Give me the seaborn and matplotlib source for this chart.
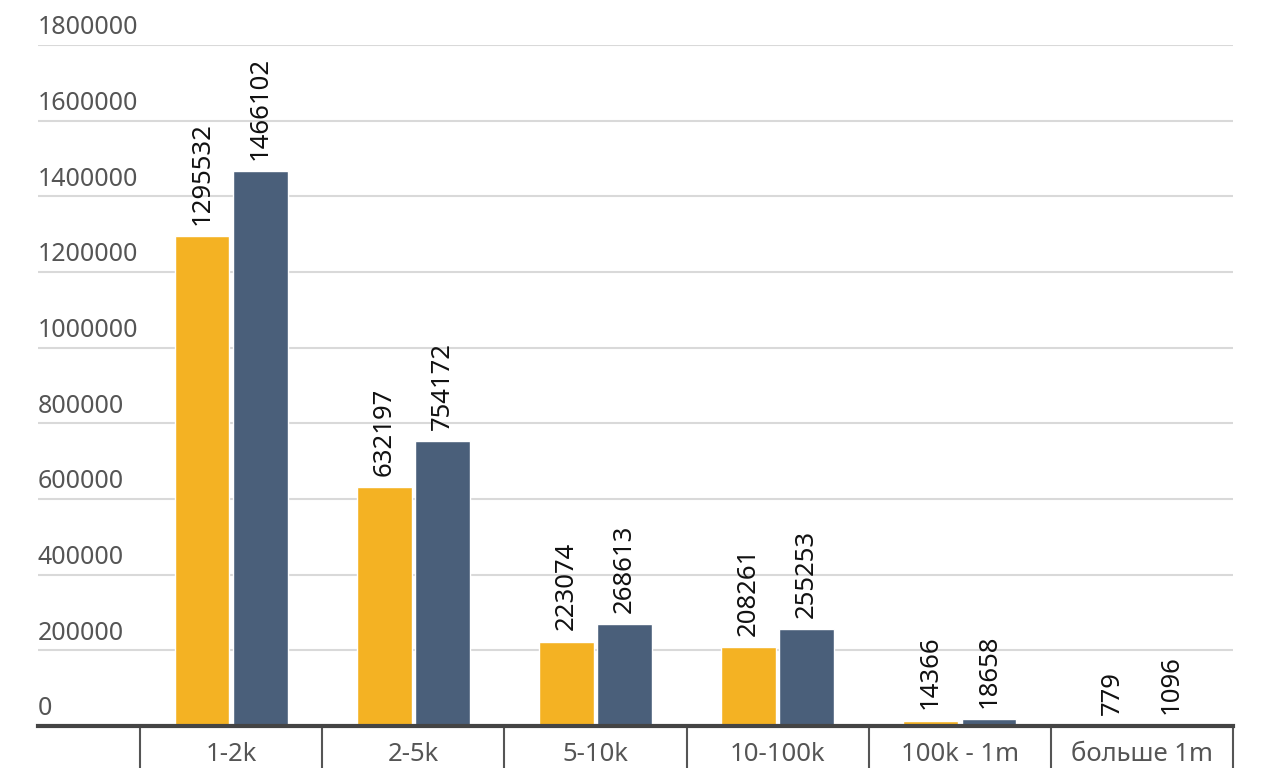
import numpy as np
import pandas as pd
import matplotlib.pyplot as plt
import matplotlib.transforms as mtransforms
import seaborn as sns

sns.set_theme(style="white")
plt.rcParams['font.family'] = ['Noto Sans', 'DejaVu Sans']

# Data
categories = ['1-2k', '2-5k', '5-10k', '10-100k', '100k - 1m', 'больше 1m']
series_a = [1295532, 632197, 223074, 208261, 14366, 779]
series_b = [1466102, 754172, 268613, 255253, 18658, 1096]
series_names = ['Ряд 1', 'Ряд 2']
y_ticks = [0, 200000, 400000, 600000, 800000, 1000000, 1200000, 1400000, 1600000, 1800000]

df = pd.DataFrame({
    'Категория': categories * 2,
    'Значение': series_a + series_b,
    'Ряд': [series_names[0]] * len(categories) + [series_names[1]] * len(categories),
})

fig = plt.figure(figsize=(12.8, 7.68), dpi=100)
ax = fig.add_axes([38 / 1280, 42 / 768, (1233 - 38) / 1280, (726 - 45) / 768])

sns.barplot(data=df, x='Категория', y='Значение', hue='Ряд',
            palette=['#F4B223', '#4A5F7A'], width=0.64, gap=0.06,
            saturation=1, legend=False, ax=ax)

ax.set_xlim(-1.06, 5.5)
ax.set_ylim(0, 1800000)

# gridlines
for t in y_ticks[1:]:
    ax.axhline(t, color='#d9d9d9', lw=1.5, zorder=0)
ax.set_axisbelow(True)

# value labels
for cont in ax.containers:
    ax.bar_label(cont, fmt='%d', rotation=90, padding=8, fontsize=18.5, color='#111111')

# y labels above gridlines
ax.set_yticks([])
trans = mtransforms.blended_transform_factory(ax.transAxes, ax.transData)
for t in y_ticks:
    ax.text(0, t + 12000, str(t), transform=trans, ha='left', va='bottom',
            fontsize=18, color='#555555')

# category labels and separators
ax.set_xticks([])
ax.set_xlabel('')
ax.set_ylabel('')
tx = mtransforms.blended_transform_factory(ax.transData, ax.transAxes)
for i, c in enumerate(categories):
    ax.text(i, -0.042, c, transform=tx, ha='center', va='center',
            fontsize=18.5, color='#555555', clip_on=False)
for b in np.arange(len(categories) + 1) - 0.5:
    ax.plot([b, b], [0, -0.07], transform=tx, color='#555555', lw=1.5, clip_on=False)

for s in ['top', 'right', 'left']:
    ax.spines[s].set_visible(False)
ax.spines['bottom'].set_color('#444444')
ax.spines['bottom'].set_linewidth(3)

fig.savefig('out.png', dpi=100)
